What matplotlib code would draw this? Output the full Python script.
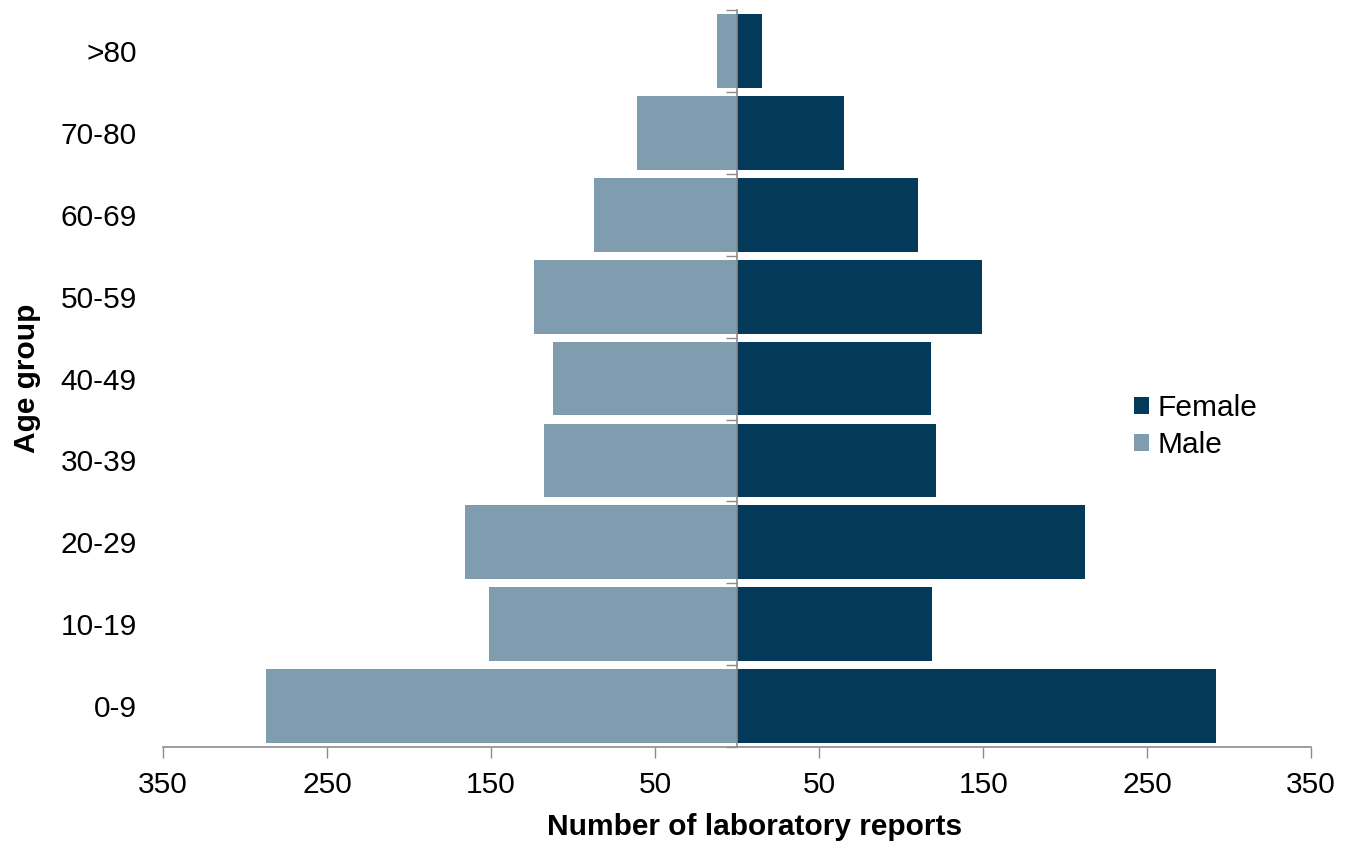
import numpy as np
import matplotlib
matplotlib.use("Agg")
import matplotlib.pyplot as plt
from matplotlib import rcParams

# Laboratory reports by age group and sex
age_groups = ["0-9", "10-19", "20-29", "30-39", "40-49", "50-59", "60-69", "70-80", ">80"]
female = [292, 119, 212, 121, 118, 149, 110, 65, 15]
male = [287, 151, 166, 118, 112, 124, 87, 61, 12]

xticks = [-350, -250, -150, -50, 50, 150, 250, 350]

female_color = "#033A59"
male_color = "#7F9DAE"
axis_gray = "#8C8C8C"

rcParams["font.family"] = ["Liberation Sans", "DejaVu Sans"]
rcParams["font.size"] = 21.5

fig = plt.figure(figsize=(13.54, 8.46), dpi=100)
ax = fig.add_axes([0.1204, 0.117, 0.848, 0.871])

y = np.arange(len(age_groups))
ax.barh(y, female, height=0.9, color=female_color, label="Female", zorder=2)
ax.barh(y, -np.array(male), height=0.9, color=male_color, label="Male", zorder=2)

ax.set_xlim(-350, 350)
ax.set_ylim(-0.5, len(age_groups) - 0.5)

ax.set_xticks(xticks)
ax.set_xticklabels([str(abs(v)) for v in xticks])
ax.tick_params(axis="x", length=8, width=1, color=axis_gray, pad=9)

ax.set_yticks(y)
ax.set_yticklabels(age_groups)
ax.tick_params(axis="y", length=0, pad=19)

for side in ["top", "right", "left"]:
    ax.spines[side].set_visible(False)
ax.spines["bottom"].set_color(axis_gray)
ax.spines["bottom"].set_linewidth(1.2)

# Centre axis with tick marks between the age groups
center = ax.secondary_yaxis(0.5)
center.set_yticks(np.arange(len(age_groups) + 1) - 0.5)
center.set_yticklabels([])
center.tick_params(left=True, right=False, length=8, width=1, color=axis_gray)
for sp in center.spines.values():
    sp.set_color(axis_gray)
    sp.set_linewidth(1.2)
center.set_zorder(3)

ax.set_xlabel("Number of laboratory reports", fontweight="bold")
ax.xaxis.set_label_coords(0.515, -0.09)
ax.set_ylabel("Age group", fontweight="bold", labelpad=14)

ax.legend(loc="center left", bbox_to_anchor=(0.822, 0.435), frameon=False,
          handlelength=0.5, handleheight=0.5, handletextpad=0.3,
          labelspacing=0.28, fontsize=21.5)

fig.savefig("out.png", dpi=100)
